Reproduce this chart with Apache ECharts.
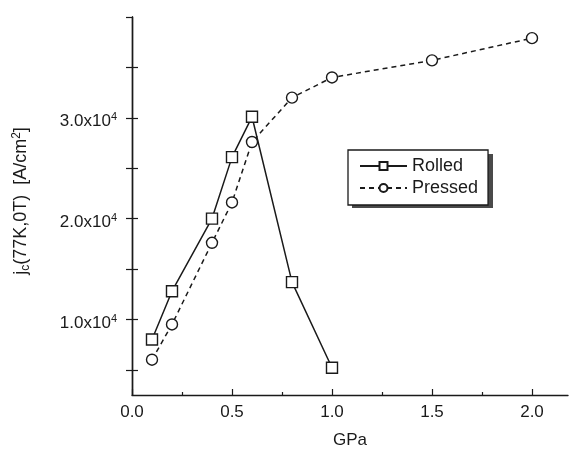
<!DOCTYPE html>
<html>
<head>
<meta charset="utf-8">
<script src="https://cdn.jsdelivr.net/npm/echarts@6/dist/echarts.min.js"></script>
<style>
html,body{margin:0;padding:0;background:#fff;}
#chart{width:572px;height:454px;}
</style>
</head>
<body>
<div id="chart"></div>
<script>
// ---- data ----
const seriesNames = ['Rolled', 'Pressed'];
const rolledX = [0.1, 0.2, 0.4, 0.5, 0.6, 0.8, 1.0];
const rolledY = [8000, 12800, 20000, 26100, 30100, 13700, 5200];
const pressedX = [0.1, 0.2, 0.4, 0.5, 0.6, 0.8, 1.0, 1.5, 2.0];
const pressedY = [6000, 9500, 17600, 21600, 27600, 32000, 34000, 35700, 37900];
const xTickLabels = [0, 0.5, 1.0, 1.5, 2.0];
const xMinorTicks = [0.25, 0.75, 1.25, 1.75];
const yTickLabels = [10000, 20000, 30000];
const yTicks = [5000, 10000, 15000, 20000, 25000, 30000, 35000];
const yTicksRight = [5000, 10000, 15000, 20000, 25000, 30000, 35000, 40000];

const ink = '#1a1a1a';
const font = 'Liberation Sans, Arial, Helvetica, sans-serif';

const chart = echarts.init(document.getElementById('chart'), null, {renderer: 'canvas'});

const xMin = 0, xMax = 2.18, yMin = 2500, yMax = 40000;

const option = {
  backgroundColor: '#ffffff',
  animation: false,
  grid: {left: 132, right: 4, top: 17, bottom: 55},
  // legend drop shadow (decoration only)
  graphic: [{
    type: 'rect',
    z: 1,
    shape: {x: 352, y: 154, width: 141, height: 54},
    style: {fill: '#4a4a4a'}
  }],
  legend: {
    orient: 'vertical',
    left: 348,
    top: 150,
    padding: [7, 10, 8, 11],
    itemWidth: 47,
    itemHeight: 10,
    itemGap: 4,
    itemStyle: {color: '#fff'},
    backgroundColor: '#fff',
    borderColor: ink,
    borderWidth: 1.3,
    z: 5,
    textStyle: {fontFamily: font, fontSize: 18, color: ink, lineHeight: 18},
    data: seriesNames
  },
  xAxis: [{
    type: 'value',
    min: xMin, max: xMax,
    position: 'bottom',
    name: 'GPa',
    nameLocation: 'middle',
    nameGap: 37,
    nameTextStyle: {fontFamily: font, fontSize: 17, color: ink},
    splitLine: {show: false},
    axisLine: {show: true, lineStyle: {color: ink, width: 1.4}},
    axisTick: {show: true, inside: true, length: 6, lineStyle: {color: ink, width: 1.2}, customValues: xTickLabels},
    axisLabel: {fontFamily: font, fontSize: 17, color: ink, margin: 9,
      customValues: xTickLabels, formatter: v => v.toFixed(1)}
  }, {
    type: 'value',
    min: xMin, max: xMax,
    position: 'bottom',
    splitLine: {show: false},
    axisLine: {show: false},
    axisTick: {show: true, inside: true, length: 3, lineStyle: {color: ink, width: 1.2}, customValues: xMinorTicks},
    axisLabel: {show: false}
  }],
  yAxis: [{
    type: 'value',
    min: yMin, max: yMax,
    position: 'left',
    name: '{n|j}{sub|c}{n|(77K,0T)  [A/cm}{sup|2}{n|]}',
    nameLocation: 'middle',
    nameGap: 100,
    nameRotate: 90,
    nameTextStyle: {
      fontFamily: font, fontSize: 18, color: ink,
      padding: [0, 0, 0, 10],
      rich: {
        n: {fontFamily: font, fontSize: 18, color: ink},
        sub: {fontFamily: font, fontSize: 12, color: ink, padding: [9, 0, 0, 0]},
        sup: {fontFamily: font, fontSize: 12, color: ink, padding: [0, 0, 9, 0]}
      }
    },
    splitLine: {show: false},
    axisLine: {show: true, lineStyle: {color: ink, width: 1.4}},
    axisTick: {show: true, inside: true, length: 6, lineStyle: {color: ink, width: 1.2}, customValues: yTicks},
    axisLabel: {
      fontFamily: font, fontSize: 17, color: ink, margin: 15,
      padding: [8, 0, 0, 0],
      customValues: yTickLabels,
      formatter: v => '{b|' + (v / 10000).toFixed(1) + 'x10}{s|4}',
      rich: {
        b: {fontFamily: font, fontSize: 17, color: ink},
        s: {fontFamily: font, fontSize: 11, color: ink, padding: [0, 0, 9, 0]}
      }
    }
  }, {
    type: 'value',
    min: yMin, max: yMax,
    position: 'right',
    splitLine: {show: false},
    axisLine: {show: true, lineStyle: {color: ink, width: 1.4}},
    axisTick: {show: true, inside: true, length: 6, lineStyle: {color: ink, width: 1.2}, customValues: yTicksRight},
    axisLabel: {show: false}
  }],
  series: [{
    name: seriesNames[0],
    type: 'line',
    xAxisIndex: 0, yAxisIndex: 0,
    data: rolledX.map((x, i) => [x, rolledY[i]]),
    symbol: 'rect',
    symbolSize: 11,
    showAllSymbol: true,
    lineStyle: {color: ink, width: 1.5, type: 'solid'},
    itemStyle: {color: '#fff', borderColor: ink, borderWidth: 1.4},
    z: 3
  }, {
    name: seriesNames[1],
    type: 'line',
    xAxisIndex: 0, yAxisIndex: 0,
    data: pressedX.map((x, i) => [x, pressedY[i]]),
    symbol: 'circle',
    symbolSize: 11,
    showAllSymbol: true,
    lineStyle: {color: ink, width: 1.5, type: [5, 4]},
    itemStyle: {color: '#fff', borderColor: ink, borderWidth: 1.4},
    z: 2
  }]
};
chart.setOption(option);
</script>
</body>
</html>
